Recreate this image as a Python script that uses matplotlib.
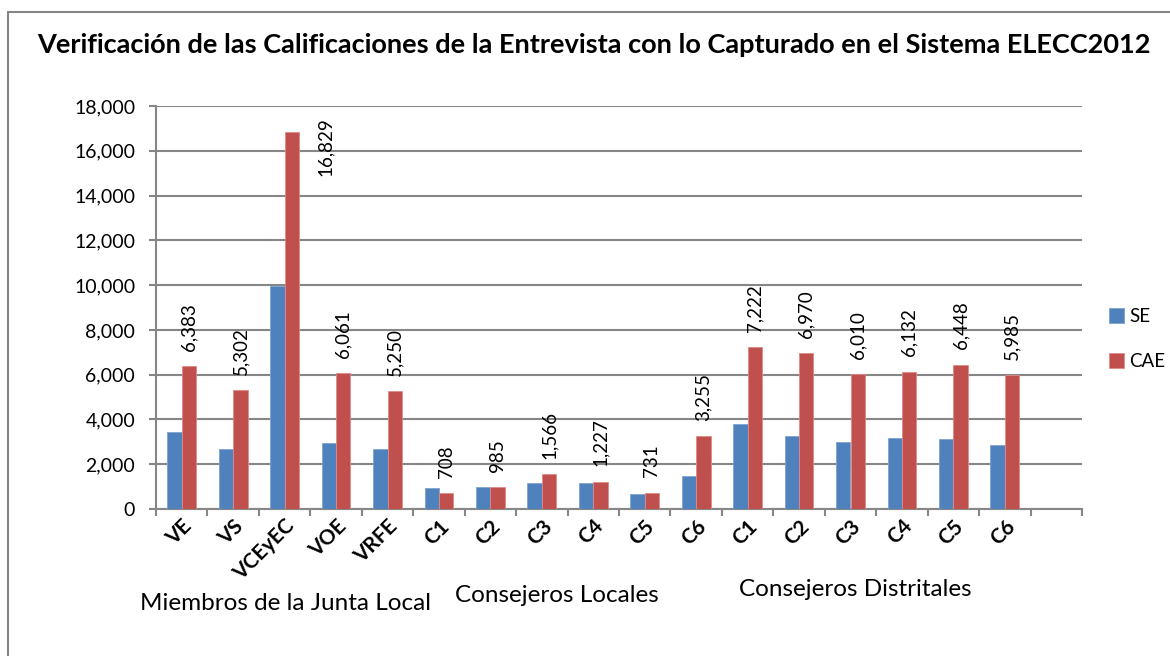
import numpy as np
import matplotlib.pyplot as plt
from matplotlib.patches import Rectangle
from matplotlib.ticker import FuncFormatter, MultipleLocator
from matplotlib import transforms

plt.rcParams['font.family'] = ['Lato', 'DejaVu Sans']

categorias = ["VE", "VS", "VCEyEC", "VOE", "VRFE",
              "C1", "C2", "C3", "C4", "C5", "C6",
              "C1", "C2", "C3", "C4", "C5", "C6"]
se = [3440, 2700, 9970, 2950, 2670,
      950, 990, 1150, 1150, 660, 1460,
      3790, 3250, 3000, 3160, 3110, 2860]
cae = [6383, 5302, 16829, 6061, 5250,
       708, 985, 1566, 1227, 731, 3255,
       7222, 6970, 6010, 6132, 6448, 5985]
grupos = ["Miembros de la Junta Local", "Consejeros Locales", "Consejeros Distritales"]

azul = "#4F81BD"
rojo = "#C0504D"
gris = "#868686"

fig = plt.figure(figsize=(11.7, 6.56), dpi=100)
ax = fig.add_axes([156/1170, 1 - 509/656, (1082 - 156)/1170, (509 - 106)/656])

# marco del grafico
fig.patches.append(Rectangle((8/1170, -0.05), 1.2, 1 - 12/656 + 0.05,
                             transform=fig.transFigure, fill=False,
                             edgecolor=gris, linewidth=1.5))

x = np.arange(len(categorias)) + 0.5
w = 0.28
ax.bar(x - w/2, se, w, color=azul, edgecolor="#7FA3D0", linewidth=0.6, label="SE", zorder=3)
ax.bar(x + w/2, cae, w, color=rojo, edgecolor="#E08A88", linewidth=0.6, label="CAE", zorder=3)

# etiquetas de valor para CAE
for xi, v in zip(x, cae):
    if v > 15000:
        ax.annotate(f"{v:,}", (xi + w/2, v), xytext=(24, 11), textcoords="offset points",
                    rotation=90, ha="center", va="top", fontsize=13.5)
    else:
        ax.annotate(f"{v:,}", (xi + w/2, v), xytext=(0, 11), textcoords="offset points",
                    rotation=90, ha="center", va="bottom", fontsize=13.5)

ax.set_xlim(0, 18)
ax.set_ylim(0, 18000)
ax.yaxis.set_major_locator(MultipleLocator(2000))
ax.yaxis.set_major_formatter(FuncFormatter(lambda v, p: f"{int(v):,}"))
ax.grid(axis="y", color=gris, linewidth=1.5, zorder=0)
ax.set_axisbelow(True)

ax.set_xticks(np.arange(0, 19))
ax.set_xticklabels([])
ax.set_xticks(x, minor=True)
off = transforms.ScaledTranslation(10/72, 0, fig.dpi_scale_trans)
ax.set_xticklabels(categorias, minor=True, rotation=45, ha="right",
                   rotation_mode="anchor", fontsize=15, fontweight="bold")
for lbl in ax.get_xticklabels(minor=True):
    lbl.set_transform(lbl.get_transform() + off)
ax.tick_params(axis="x", which="minor", length=0, pad=5)
ax.tick_params(axis="x", which="major", length=5, color=gris, width=1.5)
ax.tick_params(axis="y", length=5, color=gris, width=1.5, labelsize=14, pad=10)

for s in ["top", "right"]:
    ax.spines[s].set_visible(False)
for s in ["left", "bottom"]:
    ax.spines[s].set_color(gris)
    ax.spines[s].set_linewidth(1.5)

fig.text(594/1170, 1 - 45/656, "Verificación de las Calificaciones de la Entrevista con lo Capturado en el Sistema ELECC2012",
         ha="center", va="center", fontsize=19.5, fontweight="bold")

fig.text(286/1170, 1 - 603/656, grupos[0], ha="center", va="center", fontsize=17.5)
fig.text(557/1170, 1 - 596/656, grupos[1], ha="center", va="center", fontsize=17.5)
fig.text(855/1170, 1 - 590/656, grupos[2], ha="center", va="center", fontsize=17.5)

fig.legend(loc="center left", bbox_to_anchor=(1092/1170, 1 - 339/656), frameon=False,
           fontsize=13.5, handlelength=0.8, handleheight=0.8, handletextpad=0.3,
           labelspacing=1.5)

fig.savefig("out.png", dpi=100)
